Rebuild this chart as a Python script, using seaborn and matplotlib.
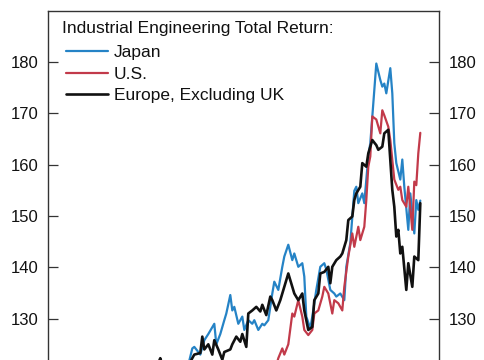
import matplotlib
matplotlib.use("Agg")
import matplotlib.pyplot as plt
import seaborn as sns
import pandas as pd
from matplotlib.lines import Line2D

# ---- data (week index, total-return index) ----
japan_week = [0, 4, 8, 12, 16, 20, 24, 28, 32, 36, 40, 44, 48, 52, 56, 60, 64, 68, 70,
              72, 73, 76, 78, 80, 83, 84, 86, 88, 89, 91, 92, 93, 95, 97, 98, 100, 102,
              103, 105, 107, 108, 110, 112, 113, 115, 117, 118, 120, 122, 123, 125, 127,
              128, 129, 131, 132, 134, 136, 138, 139, 141, 143, 144, 146, 148, 149, 151,
              153, 154, 155, 157, 158, 160, 161, 163, 164, 166, 167, 168, 169, 171, 172,
              173, 174, 176, 177, 178, 180, 181, 183, 184, 185, 186]
japan_val = [100.0, 99.1, 101.3, 102.0, 104.2, 103.1, 105.5, 107.8, 106.9, 109.4, 111.0,
             110.2, 113.5, 115.1, 114.0, 117.2, 118.8, 120.1, 121.0,
             124.2, 124.5, 123.0, 125.8, 127.0, 129.0, 125.0, 127.0, 129.7, 131.0, 134.6,
             131.6, 132.3, 129.0, 130.4, 127.8, 129.7, 129.0, 129.7, 127.8, 129.0, 128.7,
             129.7, 134.9, 137.2, 135.6, 140.1, 142.1, 144.4, 141.4, 142.7, 140.1, 140.8,
             138.2, 130.4, 128.1, 130.4, 135.6, 140.1, 140.8, 139.6, 135.6, 134.9, 134.3,
             134.9, 133.6, 140.1, 144.7, 154.9, 155.7, 152.5, 154.4, 152.5, 161.6, 164.2,
             174.5, 179.7, 176.5, 175.2, 175.8, 173.9, 178.8, 173.9, 164.2, 160.3, 157.1,
             161.0, 155.7, 147.3, 154.4, 146.6, 153.1, 151.2, 153.0]

us_week = [0, 5, 10, 15, 20, 25, 30, 35, 40, 45, 50, 55, 60, 65, 70, 75, 80, 85, 90, 95,
           100, 105, 110, 113,
           115, 117, 118, 120, 122, 123, 125, 127, 128, 130, 132, 133, 135, 137, 138, 140,
           142, 143, 145, 147, 148, 150, 152, 153, 155, 156, 158, 159, 160, 161, 162, 164,
           166, 167, 168, 170, 171, 172, 173, 175, 176, 177, 179, 180, 182, 183, 184, 185,
           186]
us_val = [100.0, 101.0, 100.2, 102.4, 103.6, 102.8, 104.9, 106.3, 105.1, 107.7, 109.2,
          108.4, 110.6, 112.3, 111.5, 113.8, 115.0, 114.2, 116.4, 117.9, 116.8, 118.7,
          120.4, 119.5,
          122.3, 124.2, 123.0, 125.0, 131.0, 130.4, 133.6, 130.4, 127.8, 126.8, 127.8,
          131.0, 131.6, 134.3, 136.2, 134.9, 131.0, 133.6, 133.0, 131.6, 136.2, 142.1,
          146.6, 144.0, 147.9, 145.3, 147.9, 153.1, 159.6, 161.6, 169.4, 168.8, 166.1,
          170.6, 169.6, 167.4, 164.8, 160.9, 157.1, 155.1, 155.7, 153.1, 151.8, 155.7,
          147.3, 156.7, 156.0, 162.2, 166.2]

europe_week = [0, 4, 8, 12, 16, 20, 24, 28, 32, 36, 40, 44, 48, 52, 54, 56, 58, 61, 64,
               67, 70,
               72, 73, 76, 77, 78, 80, 82, 83, 85, 87, 88, 91, 92, 94, 96, 97, 99, 100,
               102, 104, 106, 107, 109, 111, 112, 114, 116, 117, 120, 122, 123, 125, 127,
               128, 130, 132, 133, 135, 136, 138, 140, 141, 142, 144, 146, 147, 149, 150,
               152, 153, 154, 156, 157, 159, 160, 161, 162, 164, 165, 167, 168, 170, 171,
               172, 173, 174, 175, 176, 177, 179, 180, 182, 183, 185, 186]
europe_val = [100.0, 101.2, 100.4, 102.5, 103.8, 103.0, 105.6, 107.1, 106.2, 108.9, 111.4,
              113.0, 116.2, 118.5, 120.4, 122.3, 119.6, 118.2, 120.1, 118.9, 120.8,
              122.3, 123.0, 123.3, 126.5, 124.0, 125.0, 123.0, 125.8, 124.0, 122.0, 123.5,
              124.0, 125.0, 126.5, 125.5, 127.0, 124.5, 131.0, 131.6, 132.3, 131.4, 132.7,
              130.7, 134.3, 133.6, 131.6, 133.6, 134.9, 138.8, 136.2, 134.9, 133.6, 134.9,
              131.6, 127.8, 128.4, 133.6, 134.9, 138.8, 139.1, 140.1, 136.9, 140.1, 141.4,
              142.1, 142.7, 145.3, 149.2, 149.9, 153.1, 154.4, 155.7, 160.3, 159.6, 162.2,
              163.5, 164.8, 163.8, 162.9, 163.5, 166.1, 166.8, 160.9, 155.1, 151.8, 146.0,
              147.3, 142.7, 144.0, 135.6, 140.8, 136.2, 142.1, 141.4, 152.5]

series_names = ["Japan", "U.S.", "Europe, Excluding UK"]
series_colors = ["#2583c6", "#c23a4a", "#111111"]
legend_title = "Industrial Engineering Total Return:"
y_ticks = [130, 140, 150, 160, 170, 180]

frames = []
for name, wk, val in zip(series_names,
                         [japan_week, us_week, europe_week],
                         [japan_val, us_val, europe_val]):
    frames.append(pd.DataFrame({"week": wk, "value": val, "series": name}))
df = pd.concat(frames, ignore_index=True)

# ---- figure ----
sns.set_theme(style="white")
plt.rcParams["font.family"] = ["Liberation Sans", "DejaVu Sans"]

fig = plt.figure(figsize=(4.85, 3.6), dpi=100)
W, H = 485, 360
left_px, right_px = 48.3, 439.3
px_per_unit = 5.133
ylo, yhi = 90, 190
top_px = 62 - (yhi - 180) * px_per_unit
height_px = (yhi - ylo) * px_per_unit
ax = fig.add_axes([left_px / W, 1 - (top_px + height_px) / H,
                   (right_px - left_px) / W, height_px / H])

line_widths = [1.6, 1.6, 1.9]
sns.lineplot(data=df, x="week", y="value", hue="series", hue_order=series_names,
             palette=series_colors, estimator=None, sort=False, linewidth=1.7,
             ax=ax, legend=False)
for line, lw in zip(ax.get_lines(), line_widths):
    line.set_linewidth(lw)

ax.set_xlim(0, 195.5)
ax.set_ylim(ylo, yhi)
ax.set_yticks(y_ticks)
ax.set_xticks([])
ax.set_xlabel("")
ax.set_ylabel("")
ax.tick_params(axis="y", which="both", direction="in", length=7, width=0.9,
               color="#333333", left=True, right=True, labelleft=True,
               labelright=True, labelsize=12, labelcolor="#111111", pad=7)
for sp in ax.spines.values():
    sp.set_visible(True)
    sp.set_color("#333333")
    sp.set_linewidth(1.0)

fig.text(62 / W, 1 - 28 / H, legend_title, ha="left", va="center",
         fontsize=12.5, color="#111111")

handles = [Line2D([], [], color=c, linewidth=lw)
           for c, lw in zip(series_colors, line_widths)]
leg = fig.legend(handles, series_names, loc="center left",
                 bbox_to_anchor=(66 / W, 1 - 74 / H), bbox_transform=fig.transFigure,
                 frameon=False, fontsize=12.5, handlelength=2.42, handletextpad=0.35,
                 labelspacing=0.35, borderaxespad=0.0, borderpad=0.0)
for t in leg.get_texts():
    t.set_color("#111111")

fig.savefig("out.png", dpi=100)
